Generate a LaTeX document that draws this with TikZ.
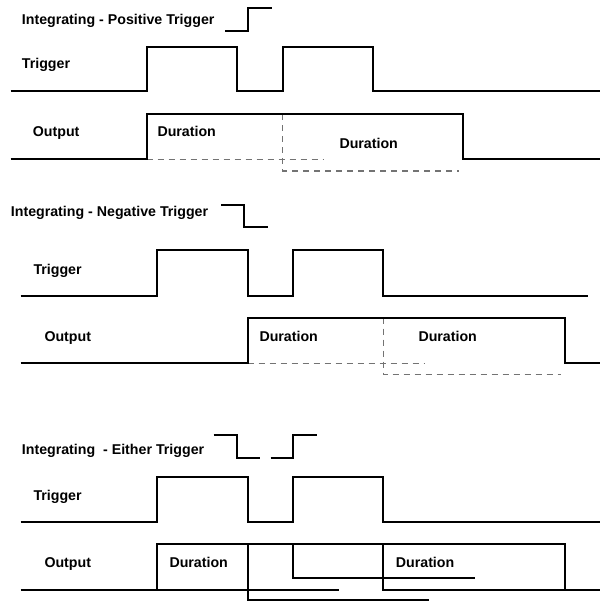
\documentclass[tikz,border=0pt]{standalone}
\usepackage{fontspec}
\setmainfont{Liberation Sans}
\begin{document}
\begin{tikzpicture}[x=1pt,y=-1pt,
  sig/.style={line width=2pt, black},
  dsh/.style={line width=1.2pt, black!55, dash pattern=on 6pt off 5pt},
  lbl/.style={anchor=base west, inner sep=0pt, font=\fontsize{14.2}{16}\selectfont\bfseries}]
\useasboundingbox[fill=white] (0,0) rectangle (600,601);

% ---------- Section 1: positive trigger ----------
\node[lbl] (t1) at (21.7,24.5) {Integrating - Positive Trigger};
\draw[sig] (225,31) -- (248,31) -- (248,8) -- (272,8);
\node[lbl] (tr1) at (21.7,69) {Trigger};
\draw[sig] (10.7,91) -- (146.7,91) -- (146.7,46.7) -- (236.7,46.7) -- (236.7,91)
  -- (282.7,91) -- (282.7,46.7) -- (372.7,46.7) -- (372.7,91) -- (600,91);
\node[lbl] (o1) at (32.7,137) {Output};
\draw[dsh] (146.7,159.3) -- (323.3,159.3);
\draw[dsh] (282.7,114.3) -- (282.7,171) -- (459.3,171);
\draw[sig] (10.7,159.3) -- (146.7,159.3) -- (146.7,114.3) -- (463.3,114.3)
  -- (463.3,159.3) -- (600,159.3);
\node[lbl] (d11) at (157.3,137) {Duration};
\node[lbl] (d12) at (339.3,148.5) {Duration};

% ---------- Section 2: negative trigger ----------
\node[lbl] (t2) at (10.7,217) {Integrating - Negative Trigger};
\draw[sig] (221.3,204.7) -- (244.3,204.7) -- (244.3,227.3) -- (267.7,227.3);
\node[lbl] (tr2) at (33.3,274) {Trigger};
\draw[sig] (20.7,295.7) -- (157.3,295.7) -- (157.3,250.3) -- (247.7,250.3) -- (247.7,295.7)
  -- (293.3,295.7) -- (293.3,250.3) -- (383.3,250.3) -- (383.3,295.7) -- (588.3,295.7);
\node[lbl] (o2) at (44.3,341.5) {Output};
\draw[dsh] (247.7,363.3) -- (425,363.3);
\draw[dsh] (383.3,317.7) -- (383.3,374.3) -- (561,374.3);
\draw[sig] (20.7,363.3) -- (247.7,363.3) -- (247.7,317.7) -- (565,317.7)
  -- (565,363.3) -- (600,363.3);
\node[lbl] (d21) at (259.3,341.5) {Duration};
\node[lbl] (d22) at (418.3,341.5) {Duration};

% ---------- Section 3: either trigger ----------
\node[lbl] (t3) at (21.7,454.5) {Integrating~ - Either Trigger};
\draw[sig] (213.7,434.7) -- (236.7,434.7) -- (236.7,458) -- (260,458);
\draw[sig] (270.7,458) -- (293.3,458) -- (293.3,434.7) -- (316.7,434.7);
\node[lbl] (tr3) at (33.3,500) {Trigger};
\draw[sig] (20.7,522) -- (157.3,522) -- (157.3,476.7) -- (247.7,476.7) -- (247.7,522)
  -- (293.3,522) -- (293.3,476.7) -- (383.3,476.7) -- (383.3,522) -- (600,522);
\node[lbl] (o3) at (44.3,567.5) {Output};
\draw[sig] (20.7,590) -- (339.3,590);
\draw[sig] (157.3,590) -- (157.3,544) -- (565,544) -- (565,590) -- (600,590);
\draw[sig] (247.7,544) -- (247.7,600) -- (429.3,600);
\draw[sig] (293.3,544) -- (293.3,578.3) -- (475,578.3);
\draw[sig] (383.3,544) -- (383.3,590) -- (565,590);
\node[lbl] (d31) at (169.3,567.5) {Duration};
\node[lbl] (d32) at (395.7,567.5) {Duration};
\end{tikzpicture}
\end{document}
